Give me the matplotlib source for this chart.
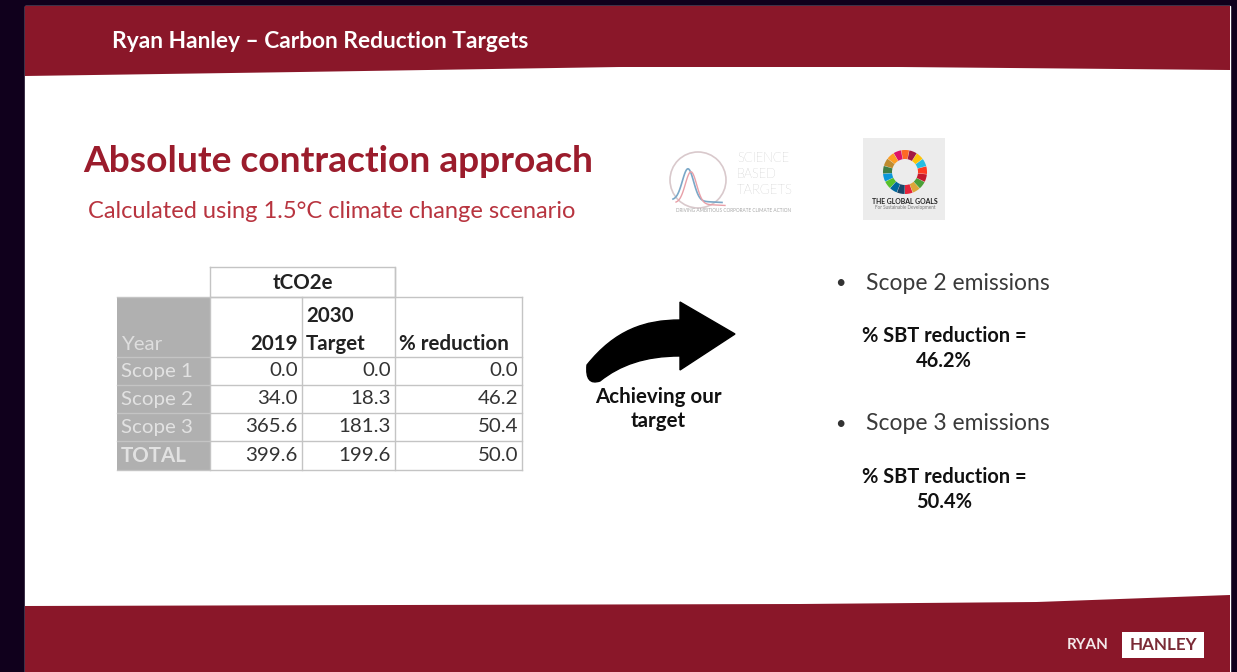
import numpy as np
import matplotlib
matplotlib.use('Agg')
import matplotlib.pyplot as plt
from matplotlib.patches import Rectangle, Polygon, Circle, Wedge, PathPatch
from matplotlib.path import Path

# ---------------- data ----------------
header_title = "Ryan Hanley \u2013 Carbon Reduction Targets"
title = "Absolute contraction approach"
subtitle = "Calculated using 1.5\u00b0C climate change scenario"
unit_label = "tCO2e"
year_label = "Year"
col_2019 = "2019"
col_2030 = ["2030", "Target"]
col_pct = "% reduction"
row_labels = ["Scope 1", "Scope 2", "Scope 3", "TOTAL"]
emissions_2019 = [0.0, 34.0, 365.6, 399.6]
target_2030 = [0.0, 18.3, 181.3, 199.6]
pct_reduction = [0.0, 46.2, 50.4, 50.0]
bullet_labels = ["Scope 2 emissions", "Scope 3 emissions"]
sbt_reduction = [46.2, 50.4]
arrow_label = ["Achieving our", "target"]
sbt_logo_words = ["SCIENCE", "BASED", "TARGETS"]
goals_logo_words = ["THE GLOBAL GOALS", "For Sustainable Development"]
footer_words = ["RYAN", "HANLEY"]

# ---------------- style ----------------
W, H = 1237, 672
BORDER = '#10001c'
RED = '#8a1729'
TITLE_RED = '#9b1c2c'
SUB_RED = '#b8343f'
FONT = 'Lato'
GRID = '#c4c4c4'
GRAYCOL = '#b0b0b0'
SDG = ['#E5243B', '#DDA63A', '#4C9F38', '#C5192D', '#FF3A21', '#26BDE2',
       '#FCC30B', '#A21942', '#FD6925', '#DD1367', '#FD9D24', '#BF8B2E',
       '#3F7E44', '#0A97D9', '#56C02B', '#00689D', '#19486A']

fig = plt.figure(figsize=(W / 100, H / 100), dpi=100, facecolor=BORDER)
ax = fig.add_axes([0, 0, 1, 1])
ax.set_xlim(0, W)
ax.set_ylim(H, 0)
ax.axis('off')
ax.set_facecolor(BORDER)
renderer = fig.canvas.get_renderer()


def fit(x, y, s, width, ha='left', va='center', **kw):
    t = ax.text(x, y, s, ha=ha, va=va, fontsize=10, family=FONT, **kw)
    w = t.get_window_extent(renderer=renderer).width
    t.set_fontsize(10 * width / w)
    return t


# ---------------- slide background ----------------
SL, SR, ST = 25, 1230, 6
ax.add_patch(Rectangle((SL, ST), SR - SL, H - ST, color='white', zorder=0))

xs = np.linspace(SL, SR, 200)
hdr_bottom = np.interp(xs, [SL, 300, 620, 900, SR], [76, 72, 67, 67, 70])
ax.add_patch(Polygon(np.column_stack([np.r_[xs, SR, SL], np.r_[hdr_bottom, ST, ST]]),
                     closed=True, color=RED, zorder=1, lw=0))
ftr_top = np.interp(xs, [SL, 400, 800, 1037, SR], [606, 605, 604, 602, 595])
ax.add_patch(Polygon(np.column_stack([np.r_[xs, SR, SL], np.r_[ftr_top, H, H]]),
                     closed=True, color=RED, zorder=1, lw=0))

fit(112, 41, header_title, 418, color='white', fontweight='bold', zorder=3)

# ---------------- titles ----------------
fit(83, 162, title, 512, color=TITLE_RED, fontweight='bold', zorder=3)
fit(88, 212, subtitle, 489, color=SUB_RED, zorder=3)

# ---------------- table ----------------
col_x = [117, 210, 302, 395, 522]
row_y = [297, 357, 385, 413, 441, 470]
unit_top = 267

ax.add_patch(Rectangle((col_x[0], row_y[0]), col_x[1] - col_x[0], row_y[-1] - row_y[0],
                       color=GRAYCOL, lw=0, zorder=2))
lw = 1.0
# unit box
ax.plot([col_x[1], col_x[3], col_x[3], col_x[1], col_x[1]],
        [unit_top, unit_top, row_y[0], row_y[0], unit_top], color=GRID, lw=lw, zorder=3)
# horizontal lines
for y in row_y:
    ax.plot([col_x[0], col_x[-1]], [y, y], color=GRID, lw=lw, zorder=3)
# vertical lines
ax.plot([col_x[2], col_x[2]], [row_y[0], row_y[-1]], color=GRID, lw=lw, zorder=3)
ax.plot([col_x[3], col_x[3]], [unit_top, row_y[-1]], color=GRID, lw=lw, zorder=3)
ax.plot([col_x[4], col_x[4]], [row_y[0], row_y[-1]], color=GRID, lw=lw, zorder=3)
ax.plot([col_x[1], col_x[1]], [row_y[0], row_y[-1]], color=GRID, lw=lw, zorder=3)

tp = fit(399, 344, col_pct, 110, color='#222222', fontweight='bold', zorder=4)
fs_tab = tp.get_fontsize()
ax.text((col_x[1] + col_x[3]) / 2, 283, unit_label, ha='center', va='center',
        fontsize=fs_tab, family=FONT, fontweight='bold', color='#222222', zorder=4)
ax.text(121, 344, year_label, ha='left', va='center', fontsize=fs_tab, family=FONT,
        color='#dedede', zorder=4)
ax.text(col_x[2] - 4, 344, col_2019, ha='right', va='center', fontsize=fs_tab, family=FONT,
        fontweight='bold', color='#222222', zorder=4)
ax.text(col_x[2] + 4, 316, col_2030[0], ha='left', va='center', fontsize=fs_tab, family=FONT,
        fontweight='bold', color='#222222', zorder=4)
ax.text(col_x[2] + 4, 344, col_2030[1], ha='left', va='center', fontsize=fs_tab, family=FONT,
        fontweight='bold', color='#222222', zorder=4)

for i, lab in enumerate(row_labels):
    yc = (row_y[i + 1] + row_y[i + 2]) / 2
    ax.text(121, yc, lab, ha='left', va='center', fontsize=fs_tab, family=FONT,
            color='#e2e2e2', fontweight='bold' if lab == 'TOTAL' else 'normal', zorder=4)
    for j, vals in enumerate([emissions_2019, target_2030, pct_reduction]):
        ax.text(col_x[j + 2] - 4, yc, f"{vals[i]:.1f}", ha='right', va='center',
                fontsize=fs_tab, family=FONT, color='#333333', zorder=4)

# ---------------- curved arrow ----------------
verts = [(587, 365),
         (615, 330), (645, 320), (680, 320),
         (680, 302),
         (735, 334),
         (680, 370),
         (680, 356),
         (645, 356), (620, 365), (600, 381),
         (585, 386), (587, 365),
         (587, 365)]
codes = [Path.MOVETO,
         Path.CURVE4, Path.CURVE4, Path.CURVE4,
         Path.LINETO, Path.LINETO, Path.LINETO, Path.LINETO,
         Path.CURVE4, Path.CURVE4, Path.CURVE4,
         Path.CURVE3, Path.CURVE3,
         Path.CLOSEPOLY]
ax.add_patch(PathPatch(Path(verts, codes), facecolor='black', edgecolor='black', lw=1, zorder=3))

ta = fit(658, 397, arrow_label[0], 127, ha='center', color='#111111', fontweight='bold', zorder=4)
ax.text(658, 421, arrow_label[1], ha='center', va='center', fontsize=ta.get_fontsize(),
        family=FONT, fontweight='bold', color='#111111', zorder=4)

# ---------------- right-hand bullets ----------------
bullet_y = [283, 424]
for k, (lab, val) in enumerate(zip(bullet_labels, sbt_reduction)):
    yb = bullet_y[k]
    ax.text(840, yb, "\u2022", ha='center', va='center', fontsize=13, family=FONT,
            color='#333333', zorder=4)
    fit(866, yb, lab, 184, color='#3a3a3a', zorder=4)
    tb = fit(944, yb + 53, "% SBT reduction =", 165, ha='center', color='#111111',
             fontweight='bold', zorder=4)
    ax.text(944, yb + 78, f"{val:.1f}%", ha='center', va='center', fontsize=tb.get_fontsize(),
            family=FONT, fontweight='bold', color='#111111', zorder=4)

# ---------------- logos ----------------
# Science Based Targets
ax.add_patch(Circle((698, 180), 28, fill=False, ec='#d9c9cc', lw=1.2, zorder=3))
wx = np.linspace(673, 722, 60)
wy = 200 - 32 * np.exp(-((wx - 688) / 8.0) ** 2) + (wx - 673) * 0.05
ax.plot(wx, wy, color='#7aa7c7', lw=1.2, zorder=4)
ax.plot(wx + 3, wy + 3, color='#e8a0a8', lw=1.0, zorder=4)
for k, wrd in enumerate(sbt_logo_words):
    fit(737, 158 + k * 16, wrd, [52, 40, 56][k], color='#9a9a9a', zorder=4, fontweight='light')
fit(734, 210, "DRIVING AMBITIOUS CORPORATE CLIMATE ACTION", 116, ha='center',
    color='#a8a8a8', zorder=4)

# Global goals
ax.add_patch(Rectangle((863, 138), 82, 82, color='#ececec', lw=0, zorder=2))
n = len(SDG)
for k, c in enumerate(SDG):
    a0 = 90 - k * 360 / n
    ax.add_patch(Wedge((905, 172), 22, a0 - 360 / n + 1, a0, width=9, color=c, lw=0, zorder=3))
fit(905, 201, goals_logo_words[0], 66, ha='center', color='#222222', fontweight='bold', zorder=4)
fit(905, 208, goals_logo_words[1], 60, ha='center', color='#777777', zorder=4)

# ---------------- footer ----------------
fit(1067, 645, footer_words[0], 42, color='#f4e8ea', fontweight='bold', zorder=4)
ax.add_patch(Rectangle((1122, 632), 82, 26, color='white', lw=0, zorder=3))
fit(1130, 645, footer_words[1], 68, color='#7a2a35', fontweight='bold', zorder=4)

fig.savefig('out.png', dpi=100, facecolor=BORDER)
